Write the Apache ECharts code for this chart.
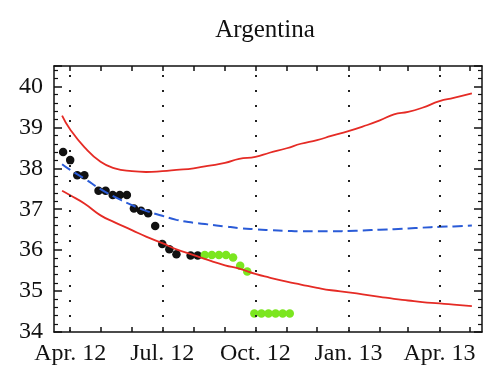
<!DOCTYPE html>
<html>
<head>
<meta charset="utf-8">
<script src="https://cdn.jsdelivr.net/npm/echarts@6/dist/echarts.min.js"></script>
<style>html,body{margin:0;padding:0;background:#fff}#c{width:500px;height:388px}</style>
</head>
<body>
<div id="c"></div>
<script>
// ---- data ----
const titleText = 'Argentina';
const tickDates = ['2012-04-01','2012-07-01','2012-10-01','2013-01-01','2013-04-01'];
const tickLabels = ['Apr. 12','Jul. 12','Oct. 12','Jan. 13','Apr. 13'];
const monthTickDates = ['2012-04-01','2012-05-01','2012-06-01','2012-07-01','2012-08-01','2012-09-01','2012-10-01','2012-11-01','2012-12-01','2013-01-01','2013-02-01','2013-03-01','2013-04-01','2013-05-01'];
const xMinDate = '2012-03-16';
const xMaxDate = '2013-05-13';

const curveDates = ['2012-03-24','2012-04-01','2012-04-15','2012-05-01','2012-05-15','2012-06-01','2012-06-15','2012-07-01','2012-07-15','2012-08-01','2012-08-15','2012-09-01','2012-09-15','2012-10-01','2012-10-15','2012-11-01','2012-11-15','2012-12-01','2012-12-15','2013-01-01','2013-01-15','2013-02-01','2013-02-15','2013-03-01','2013-03-15','2013-04-01','2013-04-15','2013-05-03'];
const upperBand = [39.29,38.95,38.52,38.16,38.00,37.93,37.91,37.93,37.96,38.00,38.06,38.13,38.23,38.28,38.38,38.49,38.60,38.69,38.79,38.91,39.02,39.17,39.32,39.38,39.48,39.64,39.72,39.83];
const lowerBand = [37.45,37.34,37.14,36.85,36.68,36.49,36.33,36.17,36.02,35.88,35.76,35.63,35.55,35.42,35.33,35.23,35.16,35.08,35.02,34.97,34.92,34.86,34.81,34.77,34.73,34.70,34.67,34.63];
const forecast = [38.10,37.96,37.75,37.49,37.30,37.10,36.96,36.84,36.74,36.67,36.63,36.58,36.54,36.51,36.49,36.47,36.46,36.46,36.46,36.47,36.48,36.50,36.51,36.53,36.55,36.57,36.58,36.60];

const blackDates = ['2012-03-25','2012-04-01','2012-04-08','2012-04-15','2012-04-29','2012-05-06','2012-05-13','2012-05-20','2012-05-27','2012-06-03','2012-06-10','2012-06-17','2012-06-24','2012-07-01','2012-07-08','2012-07-15','2012-07-29','2012-08-05'];
const blackValues = [38.40,38.20,37.83,37.83,37.45,37.45,37.35,37.35,37.35,37.02,36.96,36.90,36.59,36.15,36.02,35.90,35.87,35.87];
const greenDates = ['2012-08-12','2012-08-19','2012-08-26','2012-09-02','2012-09-09','2012-09-16','2012-09-23','2012-09-30','2012-10-07','2012-10-14','2012-10-21','2012-10-28','2012-11-04'];
const greenValues = [35.88,35.88,35.88,35.88,35.82,35.62,35.48,34.45,34.45,34.45,34.45,34.45,34.45];

// ---- helpers ----
const base = Date.UTC(2012,3,1);
function day(s){ const p = s.split('-').map(Number); return (Date.UTC(p[0],p[1]-1,p[2]) - base)/86400000; }
function pairs(ds, vs){ return ds.map((d,i)=>[day(d), vs[i]]); }
const tickDays = tickDates.map(day);
const monthDays = monthTickDates.map(day);
const labelMap = {}; tickDays.forEach((d,i)=>labelMap[d]=tickLabels[i]);

const FONT = 'Liberation Serif';
const axisColor = '#111';
const chart = echarts.init(document.getElementById('c'), null, {renderer:'canvas'});
const xCommon = {
  type:'value', min: day(xMinDate), max: day(xMaxDate),
  axisLine:{show:true, onZero:false, lineStyle:{color:axisColor, width:1.5}},
  axisTick:{show:true, inside:true, length:5, customValues: monthDays, lineStyle:{color:axisColor, width:1.5}},
  splitLine:{show:false}
};
const yCommon = {
  type:'value', min:34, max:40.5, interval:1,
  axisLine:{show:true, onZero:false, lineStyle:{color:axisColor, width:1.5}},
  axisTick:{show:true, inside:true, length:8, lineStyle:{color:axisColor, width:1.5}},
  minorTick:{show:true, splitNumber:5, length:4, lineStyle:{color:axisColor, width:1.2}},
  splitLine:{show:false}
};
chart.setOption({
  animation:false,
  title:{text:titleText, left:260, textAlign:'center', top:13,
    textStyle:{fontFamily:FONT, fontSize:25, fontWeight:'normal', color:'#111'}},
  grid:{left:54, right:18, top:66, bottom:56},
  xAxis:[
    Object.assign({}, xCommon, {position:'bottom',
      axisLabel:{show:true, customValues: tickDays, margin:10, fontFamily:FONT, fontSize:24, color:'#111',
        formatter: v => labelMap[v] !== undefined ? labelMap[v] : ''}}),
    Object.assign({}, xCommon, {position:'top', axisLabel:{show:false}})
  ],
  yAxis:[
    Object.assign({}, yCommon, {position:'left',
      axisLabel:{show:true, margin:11, fontFamily:FONT, fontSize:24, color:'#111', showMaxLabel:false,
        formatter: v => Number.isInteger(v) ? String(v) : ''}}),
    Object.assign({}, yCommon, {position:'right', axisLabel:{show:false}})
  ],
  series:[
    {type:'line', data:[], markLine:{silent:true, symbol:['none','none'], label:{show:false},
      lineStyle:{color:'#222', type:[2,13], width:2},
      data: tickDays.map(d=>({xAxis:d}))}},
    {type:'line', data:pairs(curveDates, upperBand), smooth:true, showSymbol:false,
      lineStyle:{color:'#e52b25', width:1.8}},
    {type:'line', data:pairs(curveDates, lowerBand), smooth:true, showSymbol:false,
      lineStyle:{color:'#e52b25', width:1.8}},
    {type:'line', data:pairs(curveDates, forecast), smooth:true, showSymbol:false,
      lineStyle:{color:'#2a5bd7', width:2, type:[10,5]}},
    {type:'scatter', data:pairs(blackDates, blackValues), symbolSize:8.5,
      itemStyle:{color:'#111', opacity:1}},
    {type:'scatter', data:pairs(greenDates, greenValues), symbolSize:8.5,
      itemStyle:{color:'#7be61f', opacity:1}}
  ]
});
</script>
</body>
</html>
